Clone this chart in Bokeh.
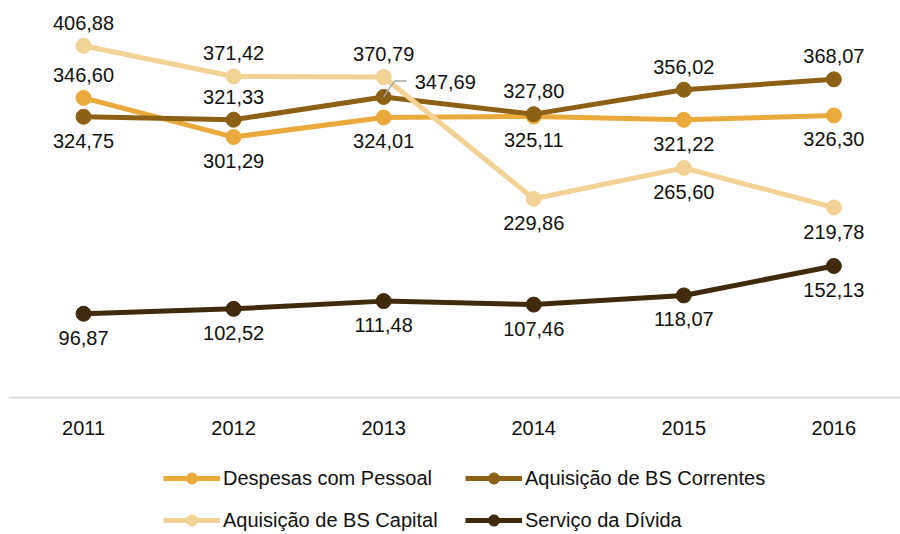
from bokeh.plotting import figure
from bokeh.models import ColumnDataSource, Legend, LegendItem, FixedTicker, Range1d
from bokeh.core.properties import value
from bokeh.embed import file_html
from bokeh.resources import INLINE

# ---- data ----
years = [2011, 2012, 2013, 2014, 2015, 2016]
despesas_pessoal = [346.60, 301.29, 324.01, 325.11, 321.22, 326.30]
bs_correntes = [324.75, 321.33, 347.69, 327.80, 356.02, 368.07]
bs_capital = [406.88, 371.42, 370.79, 229.86, 265.60, 219.78]
servico_divida = [96.87, 102.52, 111.48, 107.46, 118.07, 152.13]
series_names = ["Despesas com Pessoal", "Aquisição de BS Correntes",
                "Aquisição de BS Capital", "Serviço da Dívida"]

# ---- styles ----
FONT = "Liberation Sans"
FS = "20px"
colors = ["#E9AA3B", "#8C6116", "#F3D395", "#3F2B0C"]
placements = [
    ["above", "below", "below", "below", "below", "below"],
    ["below", "above", "leader", "above", "above", "above"],
    ["above", "above", "above", "below", "below", "below"],
    ["below"] * 6,
]
OFF = {"above": -23, "below": 24, "leader": -15}
legend_order = [0, 2, 1, 3]  # column-major grid -> row 1: 0,1 ; row 2: 2,3

X0, X1 = 2010.5, 2016.444
Y0, Y1 = -158.5, 450
FW, FH = 892, 526

p = figure(width=900, height=534, frame_width=FW, frame_height=FH,
           x_range=Range1d(X0, X1), y_range=Range1d(Y0, Y1),
           output_backend="svg", toolbar_location=None,
           min_border_left=8, min_border_right=0, min_border_top=8,
           min_border_bottom=0)
p.outline_line_color = None
p.grid.visible = False
p.yaxis.visible = False
p.background_fill_color = "white"
p.border_fill_color = "white"

xa = p.xaxis[0]
xa.fixed_location = 0
xa.ticker = FixedTicker(ticks=years)
xa.axis_line_color = "#D9D9D9"
xa.axis_line_width = 2
xa.major_tick_line_color = None
xa.minor_tick_line_color = None
xa.major_label_text_font = FONT
xa.major_label_text_font_size = FS
xa.major_label_text_color = "#111111"
xa.major_label_standoff = 18

all_series = [despesas_pessoal, bs_correntes, bs_capital, servico_divida]
items = []
label_sources = []
leaders = []
sx = FW / (X1 - X0)
sy = FH / (Y1 - Y0)
for vals, name, col, plc in zip(all_series, series_names, colors, placements):
    src = ColumnDataSource(dict(x=years, y=vals))
    r1 = p.line("x", "y", source=src, line_color=col, line_width=5)
    r2 = p.scatter("x", "y", source=src, size=15, fill_color=col, line_color=col)
    items.append(LegendItem(label=name, renderers=[r1, r2]))
    label_sources.append(ColumnDataSource(dict(
        x=years, y=vals,
        text=[f"{v:.2f}".replace(".", ",") for v in vals],
        yoff=[OFF[k] for k in plc],
        xoff=[31 if k == "leader" else 0 for k in plc],
        align=["left" if k == "leader" else "center" for k in plc],
    )))
    for xv, yv, k in zip(years, vals, plc):
        if k == "leader":
            leaders.append((xv, yv))

for xv, yv in leaders:
    p.line([xv, xv + 11 / sx, xv + 23 / sx],
           [yv, yv + 16 / sy, yv + 16 / sy],
           line_color="#A6A6A6", line_width=1.5)

for lsrc in label_sources:
    p.text("x", "y", text="text", source=lsrc, x_offset="xoff", y_offset="yoff",
           text_align="align", text_baseline="middle",
           text_font=value(FONT), text_font_size=FS, text_color="#111111")

legend = Legend(items=[items[i] for i in legend_order], ncols=2, location=(155, 0),
                glyph_width=57, glyph_height=28, label_height=28,
                label_width=228, label_standoff=3, spacing=14,
                padding=0, margin=0, border_line_color=None,
                background_fill_alpha=0,
                label_text_font=FONT, label_text_font_size=FS,
                label_text_color="#111111")
p.add_layout(legend, "center")

open("out.html", "w").write(file_html(p, INLINE))
